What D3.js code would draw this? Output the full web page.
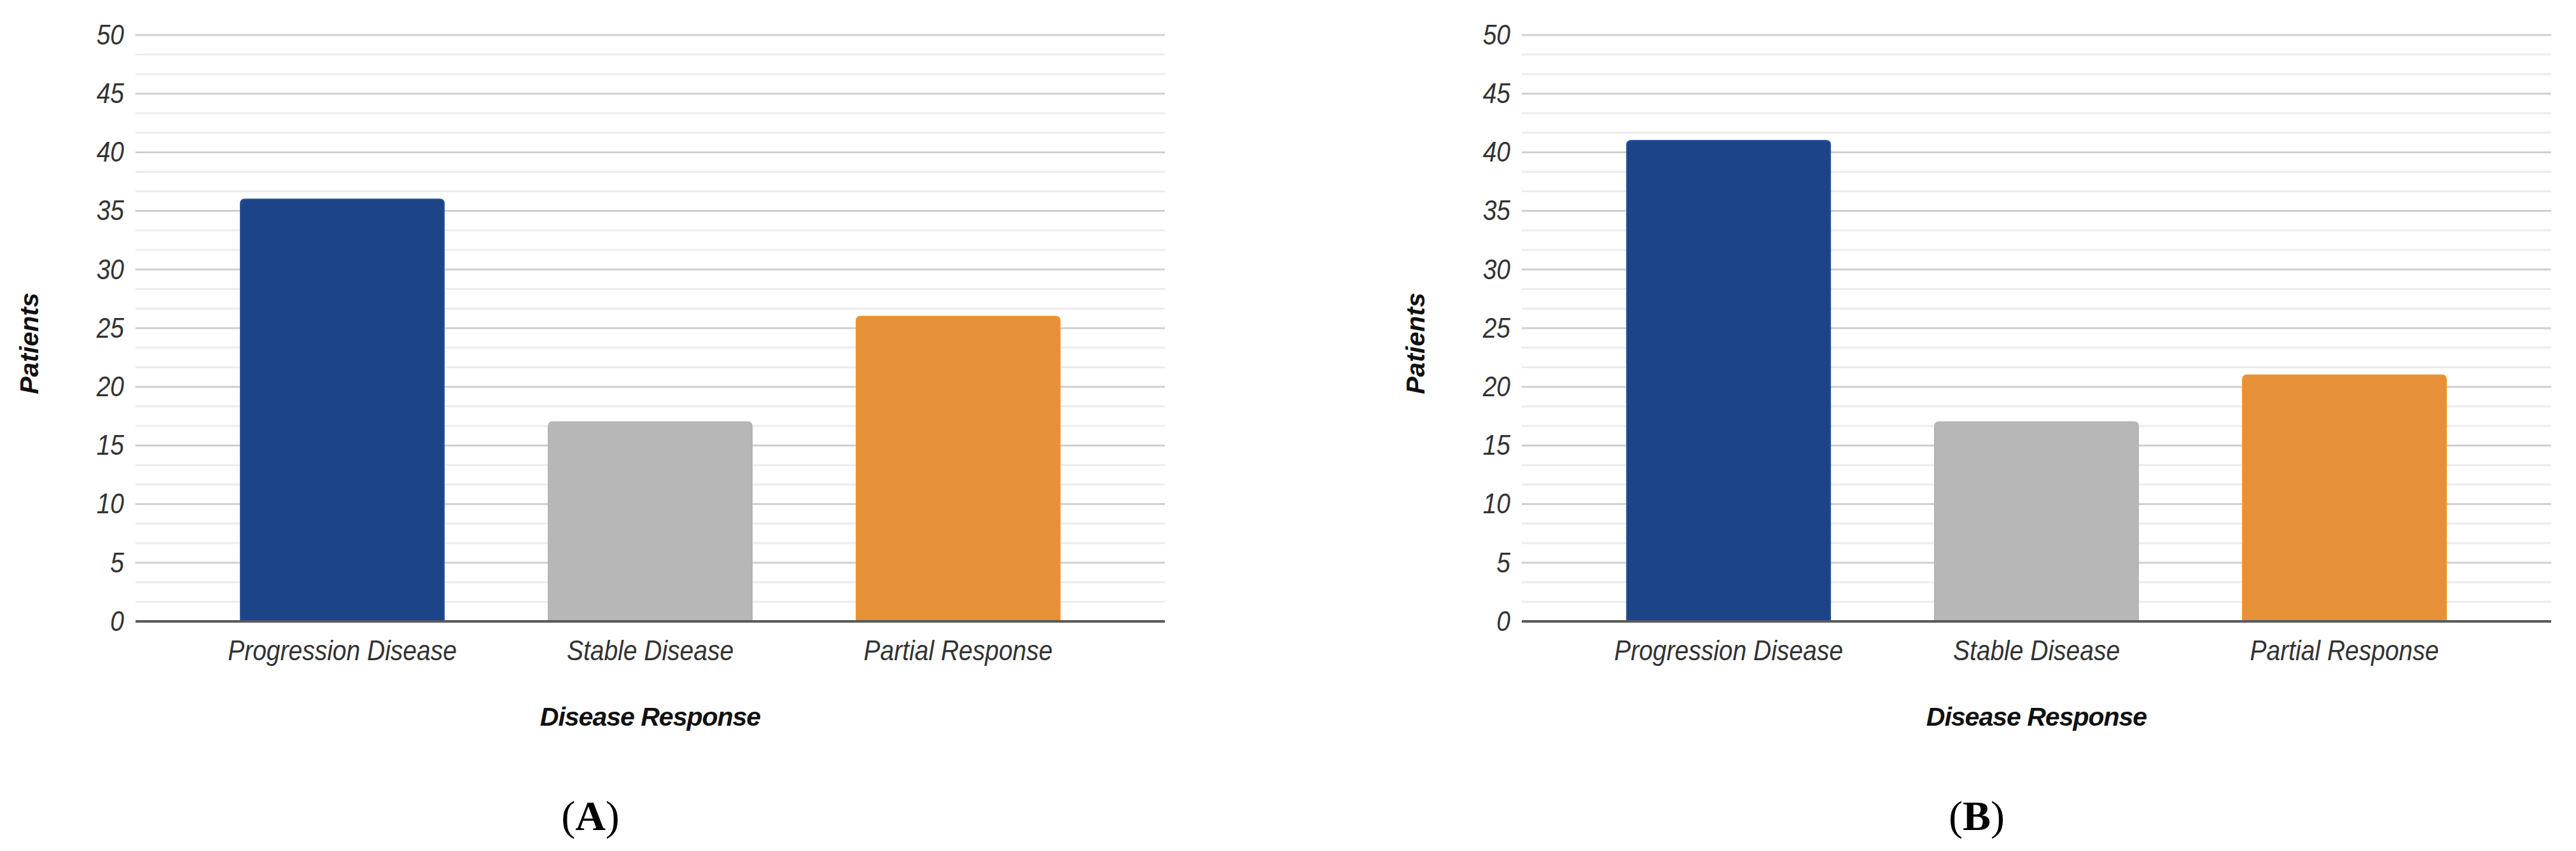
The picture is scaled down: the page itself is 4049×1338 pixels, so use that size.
<!DOCTYPE html>
<html>
<head>
<meta charset="utf-8">
<script src="https://cdn.jsdelivr.net/npm/d3@7"></script>
<style>
  body { margin: 0; background: #fff; }
  svg { display: block; }
  .tick-label { font-family: "Liberation Sans", Arial, sans-serif; font-style: italic; fill: #333; }
  .axis-title { font-family: "Liberation Sans", Arial, sans-serif; font-style: italic; font-weight: bold; fill: #111; }
  .panel-label { font-family: "Liberation Serif", "Times New Roman", serif; fill: #000; }
</style>
</head>
<body>
<svg id="chart"></svg>
<script>
// data
const categories = ["Progression Disease", "Stable Disease", "Partial Response"];
const panelA = [36, 17, 26];
const panelB = [41, 17, 21];
const yTickValues = [0, 5, 10, 15, 20, 25, 30, 35, 40, 45, 50];
const panelNames = ["A", "B"];

const BAR_FILL = ["#1c4587", "#b7b7b7", "#e69138"];
const BAR_EDGE = ["#2a5396", "#b3b3b3", "#f39420"];

const WIDTH = 4049, HEIGHT = 1338;
const PLOT_LEFT = 213, PLOT_RIGHT = 1831;
const PLOT_TOP = 55, PLOT_BOTTOM = 977;
const PANEL_SHIFT = 2179;
// the source labels look tall and narrow
const STRETCH = "scale(1,1.15)";

const SVG = d3.select("#chart").attr("width", WIDTH).attr("height", HEIGHT);
SVG.append("rect").attr("width", WIDTH).attr("height", HEIGHT).attr("fill", "#fff");

const Y = d3.scaleLinear().domain([0, 50]).range([PLOT_BOTTOM, PLOT_TOP]);
const X = d3.scaleBand()
  .domain(categories)
  .range([PLOT_LEFT, PLOT_RIGHT])
  .paddingInner(0.339)
  .paddingOuter(0.341);

// bar with rounded top corners
function barPath(x, y, w, h, r) {
  return `M${x},${y + h}V${y + r}Q${x},${y} ${x + r},${y}H${x + w - r}Q${x + w},${y} ${x + w},${y + r}V${y + h}Z`;
}

function drawPanel(values, idx) {
  const G = SVG.append("g").attr("transform", `translate(${idx * PANEL_SHIFT},0)`);

  // minor grid (every 5/3)
  const minor = d3.range(0, 50.01, 5 / 3).filter((v, i) => i % 3 !== 0);
  G.append("g").selectAll("line").data(minor).join("line")
    .attr("x1", PLOT_LEFT).attr("x2", PLOT_RIGHT)
    .attr("y1", (d) => Y(d)).attr("y2", (d) => Y(d))
    .attr("stroke", "#ececec").attr("stroke-width", 3);

  // major grid
  G.append("g").selectAll("line").data(yTickValues.filter((d) => d > 0)).join("line")
    .attr("x1", PLOT_LEFT).attr("x2", PLOT_RIGHT)
    .attr("y1", (d) => Y(d)).attr("y2", (d) => Y(d))
    .attr("stroke", "#cfcfcf").attr("stroke-width", 3);

  // y axis labels
  const Y_AXIS = d3.axisLeft(Y).tickValues(yTickValues).tickSize(0).tickPadding(18);
  const Y_AXIS_G = G.append("g").attr("transform", `translate(${PLOT_LEFT},0)`).call(Y_AXIS);
  Y_AXIS_G.select(".domain").remove();
  Y_AXIS_G.selectAll("text").attr("class", "tick-label")
    .attr("font-size", 39).attr("fill", null).attr("transform", STRETCH);

  // bars
  G.append("g").selectAll("path").data(values).join("path")
    .attr("d", (d, i) => barPath(X(categories[i]), Y(d), X.bandwidth(), Y(0) - Y(d), 7))
    .attr("fill", (d, i) => BAR_FILL[i])
    .attr("stroke", (d, i) => BAR_EDGE[i])
    .attr("stroke-width", 2);

  // baseline
  G.append("line")
    .attr("x1", PLOT_LEFT).attr("x2", PLOT_RIGHT)
    .attr("y1", Y(0)).attr("y2", Y(0))
    .attr("stroke", "#5a5a5a").attr("stroke-width", 4);

  // x axis labels
  const X_AXIS = d3.axisBottom(X).tickSize(0).tickPadding(25);
  const X_AXIS_G = G.append("g").attr("transform", `translate(0,${Y(0)})`).call(X_AXIS);
  X_AXIS_G.select(".domain").remove();
  X_AXIS_G.selectAll("text").attr("class", "tick-label")
    .attr("font-size", 39).attr("fill", null).attr("transform", STRETCH);

  // axis titles
  G.append("text").attr("class", "axis-title")
    .attr("transform", "translate(60,540) rotate(-90)")
    .attr("text-anchor", "middle").attr("font-size", 41)
    .text("Patients");
  G.append("text").attr("class", "axis-title")
    .attr("x", X(categories[1]) + X.bandwidth() / 2).attr("y", 1141)
    .attr("text-anchor", "middle").attr("font-size", 41)
    .attr("letter-spacing", -1)
    .text("Disease Response");

  // panel letter
  const L = G.append("text").attr("class", "panel-label")
    .attr("x", 928).attr("y", 1305)
    .attr("text-anchor", "middle").attr("font-size", 66);
  L.append("tspan").text("(");
  L.append("tspan").attr("font-weight", "bold").text(panelNames[idx]);
  L.append("tspan").text(")");
}

drawPanel(panelA, 0);
drawPanel(panelB, 1);
</script>
</body>
</html>
